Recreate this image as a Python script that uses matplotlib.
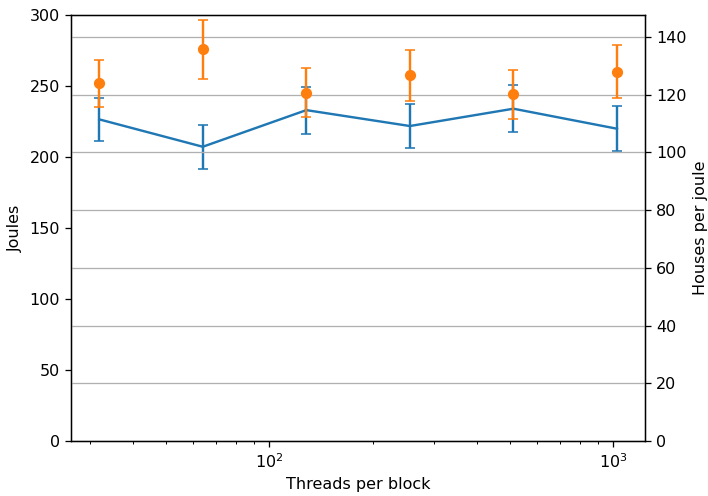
import matplotlib
matplotlib.use("Agg")
import matplotlib.pyplot as plt

threads = [32, 64, 128, 256, 512, 1024]

# energy per run (left axis)
joules = [226.5, 207.2, 233.0, 221.8, 234.0, 219.9]
joules_err = [15.0, 15.5, 16.5, 15.5, 16.5, 16.0]

# throughput per unit energy (right axis)
houses_per_joule = [123.9, 135.7, 120.7, 126.7, 120.1, 128.0]
houses_err = [8.1, 10.2, 8.4, 8.8, 8.5, 9.2]

DPI = 115
fig, ax1 = plt.subplots(figsize=(708 / DPI, 496 / DPI), dpi=DPI)
fig.subplots_adjust(left=0.1003, right=0.911, top=0.9698, bottom=0.1109)

ax1.set_xscale("log")
ax1.errorbar(threads, joules, yerr=joules_err, color="C0", capsize=3,
             linewidth=1.5)
ax1.set_ylim(0, 300)
ax1.set_xlabel("Threads per block")
ax1.set_ylabel("Joules")

ax2 = ax1.twinx()
ax2.errorbar(threads, houses_per_joule, yerr=houses_err, fmt="o",
             color="C1", capsize=3)
ax2.set_ylim(bottom=0)
ax2.set_ylabel("Houses per joule")
ax2.grid(True, axis="y")
ax1.set_xlim(26.5, 1235)

fig.savefig("out.png", dpi=DPI)
